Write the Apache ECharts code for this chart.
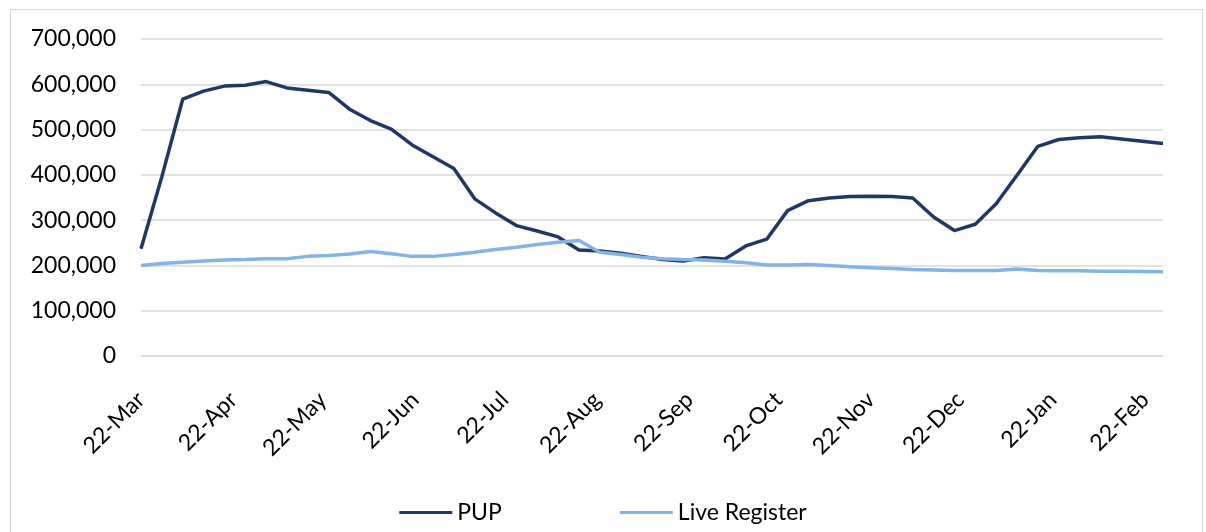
<!DOCTYPE html>
<html>
<head>
<meta charset="utf-8">
<script src="https://cdn.jsdelivr.net/npm/echarts@6/dist/echarts.min.js"></script>
<style>
  html, body { margin: 0; padding: 0; background: #fff; }
  .frame {
    position: absolute; left: 10px; top: 9px;
    width: 1193px; height: 540px;
    border: 1px solid #d9d9d9;
    box-sizing: border-box;
  }
  #chart { position: absolute; left: 0; top: 0; width: 1206px; height: 532px; }
</style>
</head>
<body>
<div class="frame"></div>
<div id="chart"></div>
<script>
// ================= data =================
const weekDates = [
  '2020-03-22', '2020-03-29', '2020-04-05', '2020-04-12', '2020-04-19', '2020-04-26',
  '2020-05-03', '2020-05-10', '2020-05-17', '2020-05-24', '2020-05-31', '2020-06-07',
  '2020-06-14', '2020-06-21', '2020-06-28', '2020-07-05', '2020-07-12', '2020-07-19',
  '2020-07-26', '2020-08-02', '2020-08-09', '2020-08-16', '2020-08-23', '2020-08-30',
  '2020-09-06', '2020-09-13', '2020-09-20', '2020-09-27', '2020-10-04', '2020-10-11',
  '2020-10-18', '2020-10-25', '2020-11-01', '2020-11-08', '2020-11-15', '2020-11-22',
  '2020-11-29', '2020-12-06', '2020-12-13', '2020-12-20', '2020-12-27', '2021-01-03',
  '2021-01-10', '2021-01-17', '2021-01-24', '2021-01-31', '2021-02-07', '2021-02-14',
  '2021-02-21', '2021-02-28'
]

const pup = [
  237000, 396000, 567000, 585000, 596000, 598000, 606000, 592000, 587000, 582000,
  545000, 520000, 501000, 466000, 440000, 414000, 347000, 316000, 288000, 276000,
  263000, 234000, 232000, 227000, 220000, 213000, 210000, 217000, 214000, 243000,
  258000, 321000, 343000, 349000, 352000, 353000, 352000, 349000, 307000, 277000,
  291000, 336000, 399000, 463000, 478000, 482000, 484000, 479000, 474000, 469000
]

const liveRegister = [
  200000, 204000, 207000, 210000, 212000, 213000, 215000, 215000, 220000, 222000,
  225000, 231000, 226000, 220000, 220000, 224000, 229000, 235000, 240000, 246000,
  251000, 255000, 229000, 224000, 218000, 215000, 213000, 212000, 209000, 206000,
  201000, 201000, 202000, 200000, 197000, 195000, 193000, 191000, 190000, 189000,
  189000, 189000, 192000, 189000, 188000, 188000, 187000, 187000, 186500, 186000
]

// x labels sit on the 22nd of every month
const tickDates = [
  '2020-03-22', '2020-04-22', '2020-05-22', '2020-06-22', '2020-07-22', '2020-08-22',
  '2020-09-22', '2020-10-22', '2020-11-22', '2020-12-22', '2021-01-22', '2021-02-22'
]

const monthNames = ['Jan', 'Feb', 'Mar', 'Apr', 'May', 'Jun', 'Jul', 'Aug', 'Sep', 'Oct', 'Nov', 'Dec']

// day number (UTC) so the x axis can be a plain value axis
const toDay = (s) => {
  const p = s.split('-').map(Number)
  return Date.UTC(p[0], p[1] - 1, p[2]) / 86400000
}

const font = 'Lato'
const fontSize = 23

// ================= chart =================
const chart = echarts.init(document.getElementById('chart'))

const option = {
  animation: false,
  textStyle: { fontFamily: font },
  grid: {
    left: 141,
    right: 43,
    top: 39,
    bottom: 176
  },
  legend: {
    bottom: 3,
    left: 'center',
    icon: 'rect',
    itemWidth: 53,
    itemHeight: 3,
    itemGap: 118,
    selectedMode: false,
    textStyle: { color: '#000', fontSize: fontSize, fontFamily: font }
  },
  xAxis: {
    type: 'value',
    min: toDay(weekDates[0]),
    max: toDay(weekDates[weekDates.length - 1]),
    axisLine: { show: true, onZero: false, lineStyle: { color: '#d9d9d9', width: 1.5 } },
    axisTick: { show: false },
    splitLine: { show: false },
    axisLabel: {
      customValues: tickDates.map(toDay),
      rotate: 45,
      margin: 40,
      color: '#000',
      fontSize: fontSize,
      fontFamily: font,
      formatter: (v) => {
        const d = new Date(v * 86400000)
        return d.getUTCDate() + '-' + monthNames[d.getUTCMonth()]
      }
    }
  },
  yAxis: {
    type: 'value',
    min: 0,
    max: 700000,
    interval: 100000,
    axisLine: { show: false },
    axisTick: { show: false },
    splitLine: { lineStyle: { color: '#d9d9d9', width: 1.5 } },
    axisLabel: {
      margin: 25,
      color: '#000',
      fontSize: fontSize,
      fontFamily: font,
      formatter: (v) => v.toLocaleString('en-US')
    }
  },
  series: [
    {
      name: 'PUP',
      type: 'line',
      symbol: 'none',
      lineStyle: { color: '#203864', width: 3.5 },
      itemStyle: { color: '#203864' },
      data: weekDates.map((d, i) => [toDay(d), pup[i]])
    },
    {
      name: 'Live Register',
      type: 'line',
      symbol: 'none',
      lineStyle: { color: '#84b3e6', width: 3.5 },
      itemStyle: { color: '#84b3e6' },
      data: weekDates.map((d, i) => [toDay(d), liveRegister[i]])
    }
  ]
}

chart.setOption(option)
</script>
</body>
</html>
